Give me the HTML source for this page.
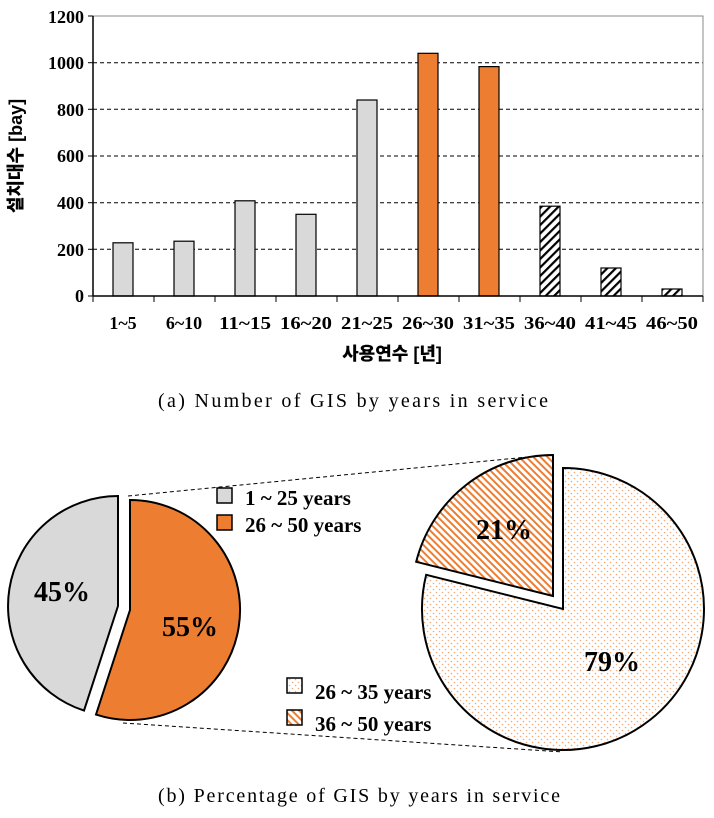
<!DOCTYPE html>
<html><head><meta charset="utf-8"><style>
html,body{margin:0;padding:0;background:#fff;}
svg{display:block;}
text{font-family:"Liberation Serif","Noto Serif CJK SC",serif;font-weight:bold;fill:#000;}
</style></head><body>
<svg width="714" height="818" viewBox="0 0 714 818" xmlns="http://www.w3.org/2000/svg">
<defs>
<pattern id="hb" width="6" height="6" patternUnits="userSpaceOnUse" patternTransform="rotate(-45)">
<rect width="6" height="6" fill="#fff"/><rect width="6" height="2.2" fill="#000"/></pattern>
<pattern id="ho" width="5" height="5" patternUnits="userSpaceOnUse" patternTransform="rotate(45)">
<rect width="5" height="5" fill="#fff"/><rect width="5" height="2" fill="#ed7d31"/></pattern>
<pattern id="dot" width="6" height="6" patternUnits="userSpaceOnUse">
<rect width="6" height="6" fill="#fff"/><circle cx="1.5" cy="1.5" r="0.8" fill="#f4a978"/><circle cx="4.5" cy="4.5" r="0.8" fill="#f4a978"/></pattern>
</defs>
<g stroke="#000" stroke-width="1" stroke-dasharray="4,3">
<line x1="93" y1="62.7" x2="703" y2="62.7"/><line x1="93" y1="109.3" x2="703" y2="109.3"/>
<line x1="93" y1="156" x2="703" y2="156"/><line x1="93" y1="202.7" x2="703" y2="202.7"/>
<line x1="93" y1="249.3" x2="703" y2="249.3"/>
</g>
<rect x="93" y="16" width="610" height="280" fill="none" stroke="#888" stroke-width="1"/>
<g stroke="#000" stroke-width="1.2">
<rect x="113" y="242.8" width="20" height="53.2" fill="#d9d9d9"/>
<rect x="174" y="241.2" width="20" height="54.8" fill="#d9d9d9"/>
<rect x="235" y="200.8" width="20" height="95.2" fill="#d9d9d9"/>
<rect x="296" y="214.3" width="20" height="81.7" fill="#d9d9d9"/>
<rect x="357" y="100" width="20" height="196" fill="#d9d9d9"/>
<rect x="418" y="53.3" width="20" height="242.7" fill="#ed7d31"/>
<rect x="479" y="66.6" width="20" height="229.4" fill="#ed7d31"/>
<rect x="540" y="206.2" width="20" height="89.8" fill="url(#hb)"/>
<rect x="601" y="268" width="20" height="28" fill="url(#hb)"/>
<rect x="662" y="289" width="20" height="7" fill="url(#hb)"/>
</g>
<line x1="93" y1="16" x2="93" y2="296" stroke="#000" stroke-width="1.5"/>
<line x1="93" y1="296" x2="703" y2="296" stroke="#000" stroke-width="1.5"/>
<g stroke="#000" stroke-width="1">
<line x1="88" y1="16" x2="93" y2="16"/><line x1="88" y1="62.7" x2="93" y2="62.7"/><line x1="88" y1="109.3" x2="93" y2="109.3"/><line x1="88" y1="156" x2="93" y2="156"/><line x1="88" y1="202.7" x2="93" y2="202.7"/><line x1="88" y1="249.3" x2="93" y2="249.3"/><line x1="88" y1="296" x2="93" y2="296"/>
<line x1="93" y1="296" x2="93" y2="302"/><line x1="154" y1="296" x2="154" y2="302"/><line x1="215" y1="296" x2="215" y2="302"/><line x1="276" y1="296" x2="276" y2="302"/><line x1="337" y1="296" x2="337" y2="302"/><line x1="398" y1="296" x2="398" y2="302"/><line x1="459" y1="296" x2="459" y2="302"/><line x1="520" y1="296" x2="520" y2="302"/><line x1="581" y1="296" x2="581" y2="302"/><line x1="642" y1="296" x2="642" y2="302"/><line x1="703" y1="296" x2="703" y2="302"/>
</g>
<g font-size="18" text-anchor="end">
<text x="84" y="23">1200</text><text x="84" y="69">1000</text><text x="84" y="116">800</text><text x="84" y="162">600</text><text x="84" y="209">400</text><text x="84" y="256">200</text><text x="84" y="302">0</text>
</g>
<g font-size="18" text-anchor="middle">
<text x="123" y="329">1~5</text><text x="184" y="329">6~10</text><text x="245" y="329" textLength="52" lengthAdjust="spacingAndGlyphs">11~15</text><text x="306" y="329" textLength="52" lengthAdjust="spacingAndGlyphs">16~20</text><text x="367" y="329" textLength="52" lengthAdjust="spacingAndGlyphs">21~25</text><text x="428" y="329" textLength="52" lengthAdjust="spacingAndGlyphs">26~30</text><text x="489" y="329" textLength="52" lengthAdjust="spacingAndGlyphs">31~35</text><text x="550" y="329" textLength="52" lengthAdjust="spacingAndGlyphs">36~40</text><text x="611" y="329" textLength="52" lengthAdjust="spacingAndGlyphs">41~45</text><text x="672" y="329" textLength="52" lengthAdjust="spacingAndGlyphs">46~50</text>
</g>
<text x="392" y="360" font-size="18" text-anchor="middle" style="font-family:'Liberation Sans','Noto Sans CJK KR',sans-serif;font-weight:900">사용연수 [년]</text>
<text transform="translate(22,156) rotate(-90)" font-size="18" text-anchor="middle" style="font-family:'Liberation Sans','Noto Sans CJK KR',sans-serif;font-weight:900">설치대수 [bay]</text>
<text x="158" y="407" font-size="20" textLength="390" lengthAdjust="spacing" style="font-weight:normal">(a) Number of GIS by years in service</text>
<line x1="128" y1="496" x2="548" y2="455" stroke="#000" stroke-dasharray="4,3"/>
<line x1="123" y1="723" x2="563" y2="752" stroke="#000" stroke-dasharray="4,3"/>
<path d="M130,610 L130,500 A110,110 0 1 1 96.0,714.6 Z" fill="#ed7d31" stroke="#000" stroke-width="2"/>
<path d="M118,606 L84.0,710.6 A110,110 0 0 1 118,496 Z" fill="#d9d9d9" stroke="#000" stroke-width="2"/>
<path d="M563,609 L563,468 A141,141 0 1 1 426.2,574.8 Z" fill="url(#dot)" stroke="#000" stroke-width="2"/>
<path d="M553,596 L416.2,561.8 A141,141 0 0 1 553,455 Z" fill="url(#ho)" stroke="#000" stroke-width="2"/>
<g font-size="28" text-anchor="middle">
<text x="62" y="601">45%</text><text x="190" y="636">55%</text><text x="504" y="539">21%</text><text x="612" y="671">79%</text>
</g>
<rect x="217" y="488" width="15" height="15" fill="#d9d9d9" stroke="#000" stroke-width="1.5"/>
<rect x="217" y="515" width="15" height="15" fill="#ed7d31" stroke="#000" stroke-width="1.5"/>
<rect x="287" y="678" width="15" height="15" fill="url(#dot)" stroke="#000" stroke-width="1.5"/>
<rect x="287" y="710" width="15" height="15" fill="url(#ho)" stroke="#000" stroke-width="1.5"/>
<g font-size="21">
<text x="245" y="505">1 ~ 25 years</text><text x="245" y="532">26 ~ 50 years</text>
<text x="315" y="699">26 ~ 35 years</text><text x="315" y="731">36 ~ 50 years</text>
</g>
<text x="158" y="802" font-size="20" textLength="402" lengthAdjust="spacing" style="font-weight:normal">(b) Percentage of GIS by years in service</text>
</svg>
</body></html>
